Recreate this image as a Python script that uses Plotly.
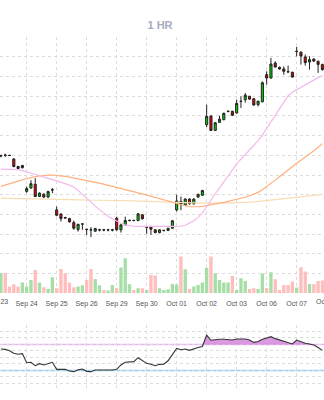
import plotly.graph_objects as go

# Trading days on the axis; each session holds seven hourly bars
day_labels = ["Sep 23", "Sep 24", "Sep 25", "Sep 26", "Sep 29", "Sep 30",
              "Oct 01", "Oct 02", "Oct 03", "Oct 06", "Oct 07", "Oct 08"]
BARS_PER_DAY = 7
FIRST_BAR = 1  # index of the first hourly bar in the series

opens = [106.96, 107.01, 107.00, 106.81, 106.43, 106.37,
         105.17, 105.34, 105.53, 104.91, 105.03, 104.88, 105.24,
         104.23, 104.02, 103.84, 103.79, 103.59, 103.24, 103.51,
         103.25, 103.22, 103.15, 103.21, 103.22, 103.21, 103.20,
         103.81, 103.22, 103.47, 103.69, 103.70, 103.69, 103.98,
         103.35, 103.39, 103.22, 103.08, 103.18, 103.19, 103.30,
         104.23, 104.66, 104.46, 104.78, 104.54, 104.88, 104.97,
         108.55, 108.99, 108.26, 108.67, 108.81, 109.22, 109.23,
         109.15, 109.73, 109.82, 109.99, 109.87, 109.57, 109.72,
         111.09, 110.92, 111.68, 111.46, 111.38, 111.24, 111.21,
         112.26, 112.23, 111.99, 111.73, 111.88, 111.77, 111.60]
highs = [107.03, 107.08, 107.02, 106.86, 106.47, 106.52,
         105.42, 105.74, 105.84, 105.12, 105.07, 105.20, 105.34,
         104.40, 104.06, 103.88, 103.83, 103.69, 103.52, 103.52,
         103.26, 103.36, 103.32, 103.27, 103.27, 103.27, 103.27,
         103.88, 103.51, 103.89, 103.73, 103.73, 104.07, 104.02,
         103.36, 103.42, 103.25, 103.24, 103.22, 103.32, 103.71,
         105.00, 104.91, 104.82, 104.81, 104.81, 105.05, 105.25,
         109.57, 109.03, 108.69, 109.01, 109.16, 109.28, 109.26,
         109.82, 109.99, 110.16, 110.02, 109.91, 109.77, 110.75,
         111.26, 111.94, 111.77, 111.50, 111.51, 111.55, 111.24,
         112.50, 112.27, 112.11, 112.02, 111.92, 111.80, 111.65]
lows = [106.90, 106.91, 106.97, 106.39, 106.29, 106.33,
        105.10, 105.30, 104.88, 104.88, 104.84, 104.84, 105.08,
        103.91, 103.64, 103.78, 103.59, 103.22, 103.13, 103.22,
        102.96, 102.85, 103.12, 103.14, 103.15, 103.14, 103.14,
        103.18, 103.08, 103.44, 103.65, 103.66, 103.66, 103.74,
        103.02, 102.96, 103.04, 103.04, 103.14, 103.17, 103.27,
        104.15, 104.21, 104.44, 104.50, 104.50, 104.84, 104.95,
        108.43, 108.23, 108.23, 108.64, 108.77, 109.18, 108.99,
        109.11, 109.40, 109.67, 109.81, 109.52, 109.48, 109.68,
        110.58, 110.89, 111.45, 111.35, 111.09, 111.19, 110.94,
        112.02, 111.60, 111.55, 111.35, 111.73, 111.18, 111.29]
closes = [106.98, 107.00, 106.99, 106.43, 106.33, 106.48,
          105.31, 105.56, 104.91, 105.08, 104.88, 105.16, 105.25,
          103.96, 103.79, 103.82, 103.62, 103.30, 103.50, 103.52,
          103.24, 103.21, 103.28, 103.22, 103.21, 103.22, 103.22,
          103.22, 103.47, 103.69, 103.70, 103.69, 104.03, 103.78,
          103.36, 103.25, 103.08, 103.22, 103.19, 103.30, 103.68,
          104.68, 104.52, 104.78, 104.54, 104.78, 105.02, 105.21,
          108.97, 108.26, 108.65, 108.83, 109.13, 109.23, 109.03,
          109.63, 109.74, 110.05, 109.85, 109.55, 109.74, 110.68,
          110.92, 111.63, 111.48, 111.38, 111.26, 111.23, 110.97,
          112.27, 112.04, 111.70, 111.85, 111.78, 111.61, 111.35]
# Volume per bar, millions of shares
volumes = [2.00, 2.00, 0.67, 0.90, 0.67, 1.07,
           0.67, 1.33, 2.33, 1.07, 0.60, 0.43, 1.60,
           0.50, 2.43, 2.00, 1.07, 0.60, 0.67, 0.80,
           1.33, 2.43, 1.43, 0.80, 0.33, 0.27, 0.83,
           0.50, 2.57, 3.50, 0.90, 0.33, 0.50, 0.50,
           0.33, 1.83, 1.77, 0.50, 0.33, 0.40, 0.93,
           0.87, 3.67, 2.40, 0.43, 0.67, 0.83, 1.07,
           2.53, 3.67, 2.00, 1.33, 1.07, 1.07, 1.73,
           0.33, 1.50, 1.23, 0.43, 0.50, 0.43, 1.97,
           0.53, 2.10, 1.40, 0.33, 0.83, 0.83, 1.17,
           0.57, 2.60, 2.17, 0.93, 0.90, 1.23, 1.27]
# Moving averages (fast / medium / slow)
ma_fast = [106.30, 106.30, 106.30, 106.29, 106.27, 106.22,
           106.16, 106.11, 106.04, 105.96, 105.89, 105.83, 105.76,
           105.68, 105.63, 105.56, 105.48, 105.38, 105.22, 105.02,
           104.79, 104.59, 104.41, 104.23, 104.08, 103.90, 103.78,
           103.65, 103.55, 103.47, 103.42, 103.40, 103.39, 103.38,
           103.38, 103.39, 103.39, 103.38, 103.39, 103.39, 103.39,
           103.40, 103.40, 103.45, 103.55, 103.68, 103.85, 104.08,
           104.39, 104.74, 105.05, 105.35, 105.66, 105.96, 106.27,
           106.55, 106.80, 107.03, 107.26, 107.48, 107.74, 108.02,
           108.35, 108.70, 109.03, 109.36, 109.72, 110.02, 110.20,
           110.33, 110.46, 110.58, 110.71, 110.84, 110.94, 111.04]
ma_mid = [105.42, 105.48, 105.56, 105.63, 105.69, 105.76,
          105.82, 105.88, 105.92, 105.95, 105.98, 105.99, 105.99,
          105.98, 105.96, 105.93, 105.89, 105.84, 105.80, 105.76,
          105.72, 105.67, 105.63, 105.59, 105.53, 105.47, 105.41,
          105.35, 105.29, 105.24, 105.18, 105.13, 105.09, 105.04,
          104.98, 104.93, 104.87, 104.82, 104.75, 104.68, 104.61,
          104.54, 104.49, 104.44, 104.40, 104.39, 104.39, 104.41,
          104.46, 104.50, 104.54, 104.56, 104.61, 104.64, 104.69,
          104.74, 104.80, 104.87, 104.95, 105.02, 105.12, 105.25,
          105.40, 105.58, 105.74, 105.91, 106.09, 106.27, 106.44,
          106.60, 106.75, 106.90, 107.05, 107.23, 107.41, 107.59]
ma_slow = [104.83, 104.82, 104.82, 104.81, 104.81, 104.80,
           104.80, 104.79, 104.79, 104.78, 104.78, 104.77, 104.77,
           104.76, 104.76, 104.75, 104.75, 104.74, 104.74, 104.74,
           104.73, 104.73, 104.72, 104.72, 104.72, 104.71, 104.71,
           104.70, 104.70, 104.69, 104.69, 104.69, 104.68, 104.68,
           104.67, 104.66, 104.65, 104.64, 104.63, 104.62, 104.61,
           104.60, 104.59, 104.58, 104.58, 104.57, 104.57, 104.57,
           104.57, 104.58, 104.58, 104.59, 104.59, 104.59, 104.59,
           104.59, 104.59, 104.60, 104.62, 104.64, 104.66, 104.68,
           104.70, 104.72, 104.74, 104.77, 104.79, 104.82, 104.84,
           104.87, 104.89, 104.92, 104.95, 104.97, 105.00, 105.02]
rsi = [63.0, 62.5, 60.5, 56.5, 55.0, 56.0,
       42.0, 42.6, 37.4, 40.5, 38.5, 40.5, 42.6,
       31.8, 31.8, 31.8, 29.2, 28.2, 31.0, 32.3,
       28.7, 28.2, 30.8, 30.8, 30.3, 30.3, 30.8,
       31.8, 38.5, 42.6, 42.6, 43.6, 49.7, 45.1,
       41.0, 39.5, 37.4, 39.5, 39.8, 45.0, 55.0,
       64.0, 62.0, 63.0, 61.0, 63.5, 65.5, 67.0,
       84.5, 76.5, 77.5, 78.0, 78.0, 77.5, 77.0,
       78.5, 78.5, 78.5, 77.0, 73.3, 74.5, 78.0,
       80.0, 82.0, 79.0, 76.9, 75.5, 73.5, 70.8,
       76.9, 74.4, 72.0, 70.8, 69.2, 65.5, 61.0]

RSI_HIGH, RSI_MID, RSI_LOW = 70, 50, 30

# View window (bar index units) and value ranges
X_RANGE = [0.7778, 76.378]
PRICE_RANGE = [100, 113]
VOLUME_RANGE = [0, 25.6]

n = len(opens)
x = list(range(FIRST_BAR, FIRST_BAR + n))
tick_positions = [d * BARS_PER_DAY for d in range(len(day_labels))]

UP_FILL, DOWN_FILL = "#00d400", "#e80000"
UP_VOL, DOWN_VOL = "#a6dfa6", "#ffbdbd"
TICK_FONT = dict(size=7, color="#555555", family="Liberation Sans, Arial, sans-serif")
rising = [c >= o for o, c in zip(opens, closes)]

fig = go.Figure()

fig.add_trace(go.Bar(
    x=x, y=volumes, xaxis="x", yaxis="y2", width=0.78,
    marker=dict(color=[UP_VOL if r else DOWN_VOL for r in rising], line=dict(width=0)),
    hoverinfo="skip"))

for vals, color in ((ma_slow, "#f7ddb2"), (ma_mid, "#ffb07e"), (ma_fast, "#f3b8ea")):
    fig.add_trace(go.Scatter(x=x, y=vals, mode="lines", xaxis="x", yaxis="y",
                             line=dict(color=color, width=1.2), hoverinfo="skip"))

fig.add_trace(go.Candlestick(
    x=x, open=opens, high=highs, low=lows, close=closes, xaxis="x", yaxis="y",
    increasing=dict(line=dict(color="#222222", width=1), fillcolor=UP_FILL),
    decreasing=dict(line=dict(color="#222222", width=1), fillcolor=DOWN_FILL),
    whiskerwidth=0))

# RSI pane: shaded overbought zone, then the RSI line itself
fig.add_trace(go.Scatter(x=x, y=[RSI_HIGH] * n, mode="lines", xaxis="x2", yaxis="y3",
                         line=dict(width=0), hoverinfo="skip"))
fig.add_trace(go.Scatter(x=x, y=[max(v, RSI_HIGH) for v in rsi], mode="lines",
                         xaxis="x2", yaxis="y3", line=dict(width=0),
                         fill="tonexty", fillcolor="rgba(205,120,215,0.75)", hoverinfo="skip"))
fig.add_trace(go.Scatter(x=x, y=rsi, mode="lines", xaxis="x2", yaxis="y3",
                         line=dict(color="#333333", width=1.1), hoverinfo="skip"))

for level, color, width, dash in ((RSI_HIGH, "#e9b2f2", 1.6, "solid"),
                                  (RSI_MID, "#ff9d9d", 1, "3px,3px"),
                                  (RSI_LOW, "#8dcff0", 1.6, "solid")):
    fig.add_shape(type="line", xref="x2 domain", yref="y3", x0=0, x1=1, y0=level, y1=level,
                  line=dict(color=color, width=width, dash=dash), layer="below")

# Day labels whose tick sits just past either edge of the window, shown clipped
span = X_RANGE[1] - X_RANGE[0]
for pos, label in zip(tick_positions, day_labels):
    if X_RANGE[0] <= pos <= X_RANGE[1]:
        continue
    fig.add_annotation(x=(pos - X_RANGE[0]) / span, xref="paper", xanchor="center",
                       y=0.2493, yref="paper", yanchor="middle",
                       text=label, showarrow=False, font=TICK_FONT)

grid = dict(showgrid=True, gridcolor="#dcdcdc", gridwidth=1, griddash="3px,3px",
            zeroline=False, showline=False, ticks="")

fig.update_layout(
    width=324, height=400,
    margin=dict(l=0, r=0, t=37, b=10),
    paper_bgcolor="white", plot_bgcolor="white",
    showlegend=False,
    font=dict(family="Liberation Sans, Arial, sans-serif"),
    title=dict(text="<b>1 HR</b>", x=160 / 324, xanchor="center",
               y=1 - 25.5 / 400, yanchor="middle", yref="container",
               font=dict(size=11, color="#a5abc3")),
    xaxis=dict(domain=[0, 1], anchor="y", range=X_RANGE,
               tickmode="array", tickvals=tick_positions, ticktext=day_labels,
               tickfont=TICK_FONT, ticklabelstandoff=5,
               rangeslider=dict(visible=False), **grid),
    xaxis2=dict(domain=[0, 1], anchor="y3", matches="x", showticklabels=False,
                tickmode="array", tickvals=tick_positions, **grid),
    yaxis=dict(domain=[0.27394, 1], range=PRICE_RANGE, tick0=100, dtick=1,
               showticklabels=False, **grid),
    yaxis2=dict(overlaying="y", range=VOLUME_RANGE, showgrid=False,
                showticklabels=False, zeroline=False),
    yaxis3=dict(domain=[0, 0.18414], range=[0, 100], tick0=0, dtick=10,
                showticklabels=False, **grid),
)

fig.write_html("out.html")
